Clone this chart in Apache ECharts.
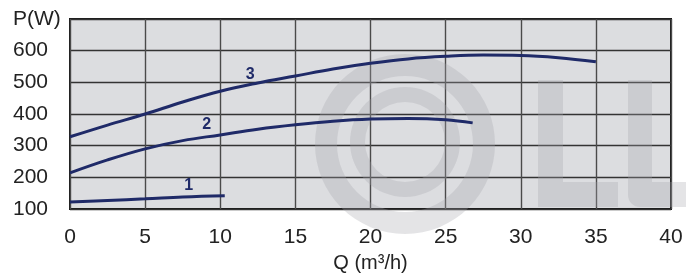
<!DOCTYPE html>
<html>
<head>
<meta charset="utf-8">
<script src="https://cdn.jsdelivr.net/npm/echarts@6/dist/echarts.min.js"></script>
<style>
  html, body { margin: 0; padding: 0; background: #fff; }
  #chart { width: 686px; height: 279px; }
</style>
</head>
<body>
<div id="chart"></div>
<script>
// axis ticks
var qTicks = [0, 5, 10, 15, 20, 25, 30, 35, 40];
var pTicks = [100, 200, 300, 400, 500, 600, 700];

// curve 1
var q1 = [0, 2.5, 5, 7.5, 10.3];
var p1 = [122, 127, 132, 138, 142];

// curve 2
var q2 = [0, 2.5, 5, 7.5, 10, 12.5, 15, 17.5, 20, 22.5, 25, 26.8];
var p2 = [214, 255, 290, 316, 334, 352, 366, 377, 384, 386, 382, 372];

// curve 3
var q3 = [0, 2.5, 5, 7.5, 10, 12.5, 15, 17.5, 20, 22.5, 25, 27.5, 30, 32.5, 35];
var p3 = [328, 365, 400, 438, 472, 498, 520, 542, 560, 574, 582, 586, 585, 578, 565];

// curve number labels [q, p]
var curveNames = ['1', '2', '3'];
var labelAt = [[7.9, 173], [9.1, 365], [12.0, 526]];

function pairs(xs, ys) {
    var out = [];
    for (var i = 0; i < xs.length; i++) out.push([xs[i], ys[i]]);
    return out;
}

var navy = '#1f2a68';
var font = 'Liberation Sans, Arial, sans-serif';

var myChart = echarts.init(document.getElementById('chart'), null, {renderer: 'canvas'});

var curves = [pairs(q1, p1), pairs(q2, p2), pairs(q3, p3)];
var series = curves.map(function (d, i) {
    return {
        name: curveNames[i],
        type: 'line',
        data: d,
        smooth: 0.4,
        showSymbol: false,
        z: 5,
        lineStyle: {color: navy, width: 3},
        markPoint: {
            symbol: 'circle',
            symbolSize: 0,
            label: {
                show: true,
                formatter: curveNames[i],
                color: navy,
                fontFamily: font,
                fontWeight: 'bold',
                fontSize: 16
            },
            data: [{coord: labelAt[i]}]
        }
    };
});

// faint "©LU" watermark behind the curves
var wm = 'rgba(165,165,172,0.3)';
var watermark = [
    {type: 'ring', shape: {cx: 405, cy: 144, r: 90, r0: 68}},
    {type: 'ring', shape: {cx: 405, cy: 142, r: 55, r0: 40}},
    {type: 'rect', shape: {x: 538, y: 80, width: 25, height: 127}},
    {type: 'rect', shape: {x: 563, y: 182, width: 55, height: 25}},
    {type: 'rect', shape: {x: 628, y: 80, width: 24, height: 102}},
    {type: 'rect', shape: {x: 628, y: 182, width: 58, height: 25, r: [0, 0, 0, 12]}}
].map(function (g) {
    g.z = 1;
    g.silent = true;
    g.style = {fill: wm};
    return g;
});

option = {
    backgroundColor: '#fff',
    animation: false,
    grid: {
        left: 70, right: 15, top: 19, bottom: 70,
        show: true,
        backgroundColor: '#dcdde0',
        borderColor: '#1a1a1a',
        borderWidth: 2
    },
    graphic: watermark,
    xAxis: {
        type: 'value',
        min: 0, max: 40, interval: 5,
        name: 'Q (m³/h)',
        nameLocation: 'middle',
        nameGap: 44,
        nameTextStyle: {color: '#222', fontFamily: font, fontSize: 20},
        axisLine: {show: false},
        axisTick: {show: false},
        axisLabel: {
            color: '#222', fontFamily: font, fontSize: 21, margin: 18,
            formatter: function (v) { return qTicks.indexOf(v) >= 0 ? String(v) : ''; }
        },
        splitLine: {show: true, lineStyle: {color: '#4a4a4a', width: 1.4}}
    },
    yAxis: {
        type: 'value',
        min: 100, max: 700, interval: 100,
        axisLine: {show: false},
        axisTick: {show: false},
        axisLabel: {
            color: '#222', fontFamily: font, fontSize: 21, margin: 57, align: 'left',
            formatter: function (v) { return v === pTicks[pTicks.length - 1] ? 'P(W)' : String(v); }
        },
        splitLine: {show: true, lineStyle: {color: '#333', width: 1.4}}
    },
    series: series
};

myChart.setOption(option);
</script>
</body>
</html>
